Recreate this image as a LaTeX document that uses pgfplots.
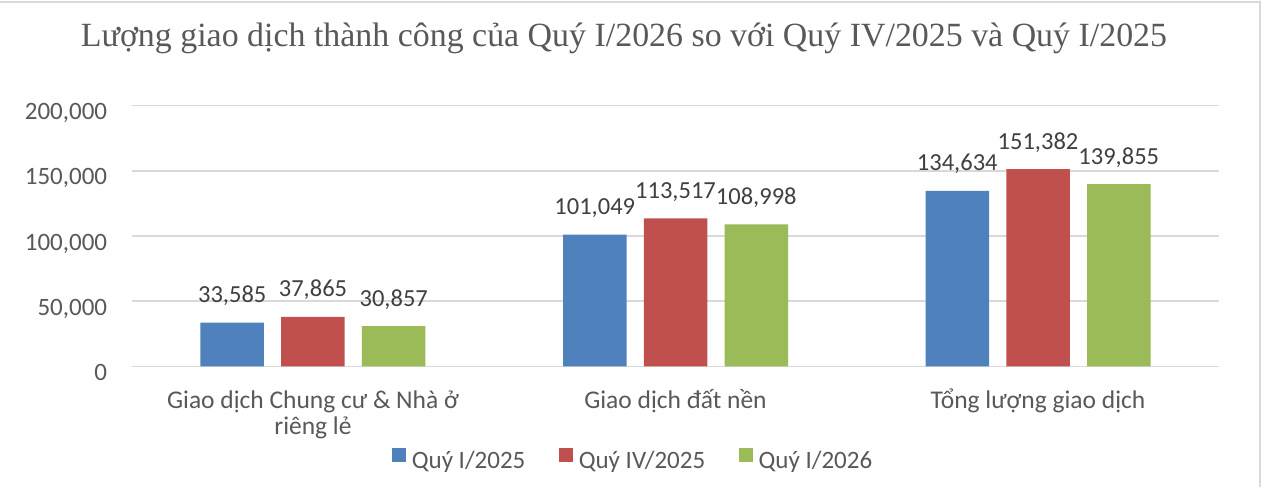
\documentclass[border=0pt]{standalone}
\usepackage{fontspec}
\setmainfont{Carlito}
\newfontfamily\titlefont{Liberation Serif}
\usepackage{pgfplots}
\pgfplotsset{compat=1.18}
\definecolor{cblue}{HTML}{4F81BD}
\definecolor{cred}{HTML}{C0504D}
\definecolor{cgreen}{HTML}{9BBB59}
\definecolor{gridc}{HTML}{D9D9D9}
\definecolor{txt}{HTML}{595959}
\definecolor{lbl}{HTML}{404040}
\begin{document}
\begin{tikzpicture}
\path[use as bounding box] (0pt,0pt) rectangle (1264pt,-487pt);
\fill[white] (0pt,0pt) rectangle (1264pt,-487pt);
\draw[gridc, line width=2pt] (0pt,-1.7pt) -- (1259.5pt,-1.7pt) -- (1259.5pt,-487pt);
\node[anchor=base, font=\titlefont\fontsize{33.9}{38}\selectfont, text=txt, inner sep=0pt] at (624pt,-46.7pt) {Lượng giao dịch thành công của Quý I/2026 so với Quý IV/2025 và Quý I/2025};
\begin{axis}[
  at={(131.7pt,-366.3pt)}, anchor=south west,
  scale only axis, width=1087.6pt, height=260.6pt,
  xmin=-0.5, xmax=2.5, ymin=0, ymax=200000,
  clip=false,
  axis line style={draw=none},
  ymajorgrids, grid style={gridc, line width=1.4pt},
  major tick length=0pt,
  ytick={0,50000,100000,150000,200000},
  scaled y ticks=false,
  xtick={0,1,2},
  xticklabels={{\begin{tabular}[t]{@{}c@{}}Giao dịch Chung cư \& Nhà ở\\riêng lẻ\end{tabular}},{Giao dịch đất nền},{Tổng lượng giao dịch}},
  /pgf/number format/fixed,
  /pgf/number format/precision=0,
  /pgf/number format/1000 sep={,},
  /pgf/number format/assume math mode=true,
  yticklabel style={font=\fontsize{25}{30}\selectfont, text=txt, anchor=base east, inner sep=0pt, xshift=-24.4pt, yshift=-14pt},
  xticklabel style={font=\fontsize{25.5}{26.5}\selectfont, text=txt, anchor=base, inner sep=0pt, yshift=-41.7pt},
  ybar, bar width=63.5pt,
  nodes near coords,
  every node near coord/.append style={font=\fontsize{24.5}{28}\selectfont, text=lbl, anchor=base, inner sep=0pt, yshift=20pt},
  legend columns=3,
  legend style={at={(0.46,-0.311)}, anchor=north, draw=none, fill=none, inner sep=0pt,
    font=\fontsize{25}{30}\selectfont, text=txt,
    nodes={inner sep=0pt, text height=18pt, text depth=6pt},
    /tikz/every odd column/.style={column sep=5.5pt},
    /tikz/every even column/.style={column sep=33.4pt}},
]
\addplot[fill=cblue, draw=none, bar shift=-80.75pt,
  legend image code/.code={\fill[cblue] (0pt,0pt) rectangle (14.5pt,14.5pt);}]
  coordinates {(0,33585) (1,101049) (2,134634)};
\addplot[fill=cred, draw=none, bar shift=0pt,
  legend image code/.code={\fill[cred] (0pt,0pt) rectangle (14.5pt,14.5pt);}]
  coordinates {(0,37865) (1,113517) (2,151382)};
\addplot[fill=cgreen, draw=none, bar shift=80.75pt,
  legend image code/.code={\fill[cgreen] (0pt,0pt) rectangle (14.5pt,14.5pt);}]
  coordinates {(0,30857) (1,108998) (2,139855)};
\legend{Quý I/2025, Quý IV/2025, Quý I/2026}
\end{axis}
\end{tikzpicture}
\end{document}
